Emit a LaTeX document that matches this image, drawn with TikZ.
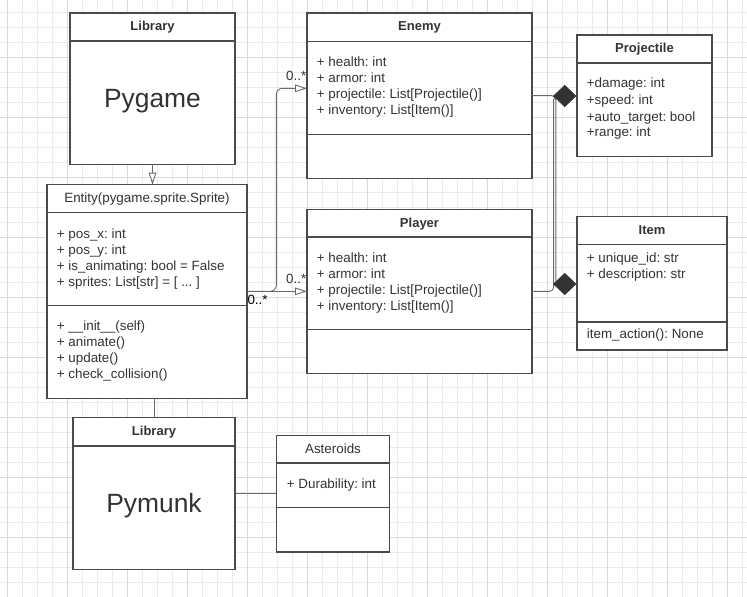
\documentclass[tikz,border=0pt]{standalone}
\usepackage{fontspec}
\setmainfont{Liberation Sans}
\usetikzlibrary{arrows.meta,shapes.geometric}
\definecolor{txt}{HTML}{333333}
\definecolor{bord}{HTML}{4A4A4A}
\definecolor{gridminor}{HTML}{EBEBEB}
\definecolor{gridmajor}{HTML}{DADADA}
\definecolor{conn}{HTML}{6A6A6A}
\definecolor{dia}{HTML}{333333}
\frenchspacing
\begin{document}
\begin{tikzpicture}[x=1pt,y=-1pt,
  umlbox/.style={draw=bord, line width=1.4pt, fill=white, inner sep=0, outer sep=0},
  divline/.style={draw=bord, line width=1.4pt},
  ttlb/.style={anchor=base, inner sep=0, text=txt, font=\bfseries\fontsize{13}{15}\selectfont},
  ttln/.style={anchor=base, inner sep=0, text=txt, font=\fontsize{13.4}{16}\selectfont},
  attr/.style={anchor=base west, inner sep=0, text=txt, font=\fontsize{13.4}{16}\selectfont},
  big/.style={anchor=base, inner sep=0, text=txt, font=\fontsize{26.4}{30}\selectfont},
  mult/.style={anchor=base east, inner sep=0, text=txt, font=\fontsize{13.4}{16}\selectfont},
  connline/.style={draw=conn, line width=0.9pt},
  opentri/.style={-{Triangle[open, length=12pt, width=7.5pt, fill=white]}},
  comp/.style={diamond, fill=dia, draw=dia, line width=0.5pt, inner sep=0, minimum width=22.7pt, minimum height=21.7pt}
]
\frenchspacing
\useasboundingbox (0,0) rectangle (747,597);
\fill[white] (0,0) rectangle (747,597);
% grid
\foreach \i in {0,...,49} {
  \draw[gridminor, line width=0.8pt] (7.3+15*\i,0) -- (7.3+15*\i,597);
}
\foreach \i in {0,...,39} {
  \draw[gridminor, line width=0.8pt] (0,12.3+15*\i) -- (747,12.3+15*\i);
}
\foreach \i in {0,...,12} {
  \draw[gridmajor, line width=0.9pt] (7.3+60*\i,0) -- (7.3+60*\i,597);
}
\foreach \i in {0,...,9} {
  \draw[gridmajor, line width=0.9pt] (0,57.3+60*\i) -- (747,57.3+60*\i);
}

% ---------- boxes ----------
% Pygame library
\node[umlbox, minimum width=165pt, minimum height=151.3pt] (pygame) at (152.5,88.65) {};
\draw[divline] (70,41) -- (235,41);
% Entity
\node[umlbox, minimum width=200pt, minimum height=213.6pt] (entity) at (147,291.5) {};
\draw[divline] (47,212.7) -- (247,212.7);
\draw[divline] (47,305.7) -- (247,305.7);
% Enemy
\node[umlbox, minimum width=225pt, minimum height=165.3pt] (enemy) at (419.5,95.65) {};
\draw[divline] (307,41.3) -- (532,41.3);
\draw[divline] (307,134.3) -- (532,134.3);
% Player
\node[umlbox, minimum width=225pt, minimum height=164pt] (player) at (419.5,291.3) {};
\draw[divline] (307,237) -- (532,237);
\draw[divline] (307,329.3) -- (532,329.3);
% Projectile
\node[umlbox, minimum width=135pt, minimum height=121.7pt] (projectile) at (644.5,95.85) {};
\draw[divline] (577,63) -- (712,63);
% Item
\node[umlbox, minimum width=150pt, minimum height=133.3pt] (item) at (652,283.35) {};
\draw[divline] (577,244.3) -- (727,244.3);
\draw[divline] (577,322) -- (727,322);
% Pymunk library
\node[umlbox, minimum width=162pt, minimum height=151.6pt] (pymunk) at (154,493.5) {};
\draw[divline] (73,446) -- (235,446);
% Asteroids
\node[umlbox, minimum width=112.6pt, minimum height=116.7pt] (asteroids) at (333,493.65) {};
\draw[divline] (276.7,463) -- (389.3,463);
\draw[divline] (276.7,507.3) -- (389.3,507.3);

% ---------- connectors ----------
\draw[connline, opentri] (pygame.south) -- (pygame.south |- entity.north);
\draw[connline] (pymunk.north |- entity.south) -- (pymunk.north);
\draw[connline] (pymunk.east |- asteroids.west) -- (asteroids.west);
\draw[connline, opentri] (entity.east |- player.west) -- (player.west);
\coordinate (enemyin) at (307,88.3);
\draw[connline, opentri, rounded corners=6pt] (entity.east |- player.west) -- (276.3,291.3) -- (276.3,88.3) -- (enemyin);
\coordinate (pc) at (564.7,96);
\coordinate (ic) at (564.7,284);
\draw[connline, rounded corners=4pt] (enemy.east) -- (555.8,95.65) -- (555.8,284) -- (ic);
\draw[connline, rounded corners=4pt] (player.east) -- (553.6,291.3) -- (553.6,96) -- (pc);
\node[comp] (pdia) at (pc) {};
\node[comp] (idia) at (ic) {};

% multiplicities
\node[mult] (m1) at (306.5,80.7) {0..*};
\node[mult] (m2) at (306.5,283.3) {0..*};
\node[mult, anchor=base west, text=black] (m3) at (247.3,304.5) {0..*};

% ---------- texts ----------
\node[ttlb] (pygt) at (152.5,30.6) {Library};
\node[big] (pygn) at (152.5,107.3) {Pygame};

\node[ttln] (entt) at (147,202.3) {Entity(pygame.sprite.Sprite)};
\node[attr] (ea1) at (56.7,238) {+ pos\_x: int};
\node[attr] (ea2) at (56.7,254.2) {+ pos\_y: int};
\node[attr] (ea3) at (56.7,270.4) {+ is\_animating: bool = False};
\node[attr] (ea4) at (56.7,286.6) {+ sprites: List[str] = [ ... ]};
\node[attr] (em1) at (56.7,330.3) {+ \_\_init\_\_(self)};
\node[attr] (em2) at (56.7,346.2) {+ animate()};
\node[attr] (em3) at (56.7,362.1) {+ update()};
\node[attr] (em4) at (56.7,378) {+ check\_collision()};

\node[ttlb] (enet) at (419.5,30.8) {Enemy};
\node[attr] (na1) at (316.7,66) {+ health: int};
\node[attr] (na2) at (316.7,82) {+ armor: int};
\node[attr] (na3) at (316.7,98) {+ projectile: List[Projectile()]};
\node[attr] (na4) at (316.7,114.2) {+ inventory: List[Item()]};

\node[ttlb] (plat) at (419.5,227) {Player};
\node[attr] (pa1) at (316.7,262) {+ health: int};
\node[attr] (pa2) at (316.7,278) {+ armor: int};
\node[attr] (pa3) at (316.7,294) {+ projectile: List[Projectile()]};
\node[attr] (pa4) at (316.7,310) {+ inventory: List[Item()]};

\node[ttlb] (prot) at (644.5,52.7) {Projectile};
\node[attr] (ra1) at (586.7,87.7) {+damage: int};
\node[attr] (ra2) at (586.7,104.6) {+speed: int};
\node[attr] (ra3) at (586.7,121) {+auto\_target: bool};
\node[attr] (ra4) at (586.7,136.9) {+range: int};

\node[ttlb] (itet) at (652,234.2) {Item};
\node[attr] (ia1) at (586.7,262) {+ unique\_id: str};
\node[attr] (ia2) at (586.7,278) {+ description: str};
\node[attr] (im1) at (586.7,338.6) {item\_action(): None};

\node[ttlb] (pymt) at (154,435.6) {Library};
\node[big] (pymn) at (154,512.3) {Pymunk};

\node[ttln] (astt) at (333,453) {Asteroids};
\node[attr] (aa1) at (286.7,488) {+ Durability: int};
\end{tikzpicture}
\end{document}
